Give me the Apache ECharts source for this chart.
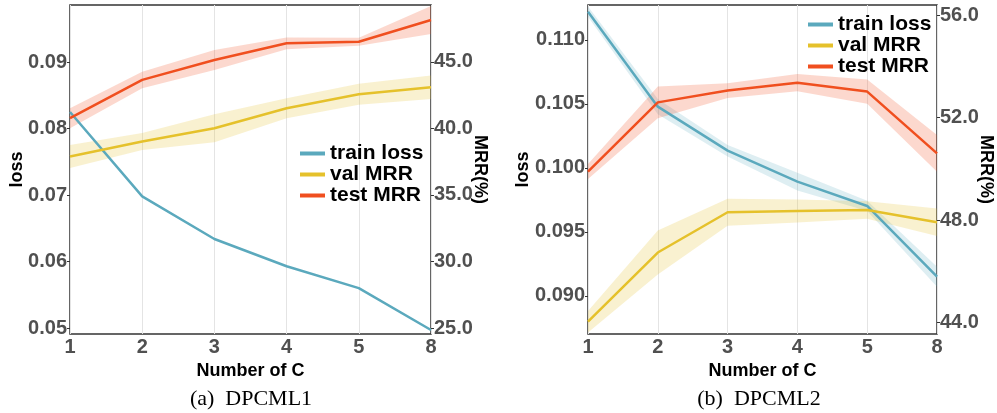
<!DOCTYPE html>
<html>
<head>
<meta charset="utf-8">
<script src="https://cdn.jsdelivr.net/npm/echarts@6/dist/echarts.min.js"></script>
<style>
html,body{margin:0;padding:0;background:#fff;}
#chart{width:997px;height:413px;}
</style>
</head>
<body>
<div id="chart"></div>
<script>
// ---- data ----
var categories = ['1', '2', '3', '4', '5', '8'];

// (a) DPCML1
var trainLoss1 = [0.0825, 0.0698, 0.0634, 0.0593, 0.0560, 0.0497];
var valMRR1    = [37.89, 39.02, 40.02, 41.52, 42.57, 43.10];
var valErr1    = [0.86, 0.64, 1.05, 0.75, 0.79, 0.88];
var testMRR1   = [40.77, 43.65, 45.15, 46.40, 46.52, 48.15];
var testErr1   = [0.75, 0.62, 0.75, 0.44, 0.30, 1.05];

// (b) DPCML2
var trainLoss2 = [0.11221, 0.10479, 0.10135, 0.09893, 0.09703, 0.09151];
var trainErr2  = [0.0004, 0.0006, 0.00045, 0.0007, 0.0004, 0.00078];
var valMRR2    = [44.04, 46.74, 48.31, 48.36, 48.40, 47.92];
var valErr2    = [0.42, 0.86, 0.53, 0.45, 0.34, 0.54];
var testMRR2   = [49.90, 52.60, 53.06, 53.37, 53.02, 50.61];
var testErr2   = [0.29, 0.62, 0.29, 0.34, 0.47, 0.72];

// tick labels
var lossTicks1 = [0.05, 0.06, 0.07, 0.08, 0.09];
var mrrTicks1  = [25, 30, 35, 40, 45];
var lossTicks2 = [0.090, 0.095, 0.100, 0.105, 0.110];
var mrrTicks2  = [44, 48, 52, 56];

var seriesNames = ['train loss', 'val MRR', 'test MRR'];
var captions = ['(a)  DPCML1', '(b)  DPCML2'];
var xName = 'Number of C';

// ---- styles ----
var TEAL = '#5ba9bd', YEL = '#e5c12b', RED = '#f04f1f';
var TEAL_B = 'rgba(91,169,189,0.2)', YEL_B = 'rgba(229,193,43,0.22)', RED_B = 'rgba(240,79,31,0.22)';
var FONT = 'Liberation Sans';
var tickLabel = {fontFamily: FONT, fontWeight: 'bold', fontSize: 20, color: '#505050'};
var nameStyle = {fontFamily: FONT, fontWeight: 'bold', fontSize: 18, color: '#000'};

function lower(v, e) { return v.map(function (x, i) { return x - e[i]; }); }
function width(e) { return e.map(function (x) { return 2 * x; }); }

function band(name, xi, yi, vals, errs, color) {
  return [
    {name: name + ' lo', type: 'line', xAxisIndex: xi, yAxisIndex: yi, stack: name,
     data: lower(vals, errs), symbol: 'none', silent: true,
     lineStyle: {opacity: 0}, z: 1},
    {name: name + ' hi', type: 'line', xAxisIndex: xi, yAxisIndex: yi, stack: name,
     data: width(errs), symbol: 'none', silent: true,
     lineStyle: {opacity: 0}, areaStyle: {color: color, opacity: 1}, z: 1}
  ];
}
function line(name, xi, yi, vals, color) {
  return {name: name, type: 'line', xAxisIndex: xi, yAxisIndex: yi, data: vals,
          symbol: 'none', color: color, itemStyle: {color: color},
          lineStyle: {color: color, width: 2.5}, z: 3};
}
function xAxis(gi) {
  return {type: 'category', gridIndex: gi, data: categories, boundaryGap: false,
          axisLine: {show: false}, axisTick: {show: false},
          axisLabel: Object.assign({margin: 3}, tickLabel),
          splitLine: {show: true, lineStyle: {color: '#e4e4e4', width: 1}},
          name: xName, nameLocation: 'middle', nameGap: 17, nameTextStyle: nameStyle};
}
function yAxis(gi, pos, min, max, ticks, dec, name, gap) {
  return {type: 'value', gridIndex: gi, position: pos, min: min, max: max,
          axisLine: {show: false},
          axisTick: {show: true, customValues: ticks, length: 3, lineStyle: {color: '#333', width: 1}},
          axisLabel: Object.assign({margin: 3, customValues: ticks,
                     formatter: function (v) { return Number(v).toFixed(dec); }}, tickLabel),
          splitLine: {show: false},
          name: name, nameLocation: 'middle', nameRotate: pos === 'left' ? 90 : -90,
          nameMoveOverlap: false,
          nameGap: gap, nameTextStyle: nameStyle};
}

var series = []
  .concat(band('val1', 0, 1, valMRR1, valErr1, YEL_B))
  .concat(band('test1', 0, 1, testMRR1, testErr1, RED_B))
  .concat([line(seriesNames[0], 0, 0, trainLoss1, TEAL),
           line(seriesNames[1], 0, 1, valMRR1, YEL),
           line(seriesNames[2], 0, 1, testMRR1, RED)])
  .concat(band('train2', 1, 2, trainLoss2, trainErr2, TEAL_B))
  .concat(band('val2', 1, 3, valMRR2, valErr2, YEL_B))
  .concat(band('test2', 1, 3, testMRR2, testErr2, RED_B))
  .concat([line(seriesNames[0], 1, 2, trainLoss2, TEAL),
           line(seriesNames[1], 1, 3, valMRR2, YEL),
           line(seriesNames[2], 1, 3, testMRR2, RED)]);

var legendBase = {orient: 'vertical', data: seriesNames, icon: 'rect', itemWidth: 25, itemHeight: 4,
                  itemGap: 0, selectedMode: false,
                  textStyle: {fontFamily: FONT, fontWeight: 'bold', fontSize: 21, color: '#000',
                              lineHeight: 19, padding: [0, 0, 0, 0]}, padding: 0};

var option = {
  animation: false,
  backgroundColor: '#fff',
  title: [
    {text: captions[0], left: 246, top: 383, textAlign: 'center',
     textStyle: {fontFamily: 'Liberation Serif', fontWeight: 'normal', fontSize: 22, color: '#000'}},
    {text: captions[1], left: 754, top: 383, textAlign: 'center',
     textStyle: {fontFamily: 'Liberation Serif', fontWeight: 'normal', fontSize: 22, color: '#000'}}
  ],
  legend: [
    Object.assign({left: 300, top: 143}, legendBase),
    Object.assign({left: 808, top: 14}, legendBase)
  ],
  grid: [
    {left: 70, top: 5, width: 361, height: 329, show: true, borderColor: '#333', borderWidth: 1.5, backgroundColor: 'transparent'},
    {left: 588, top: 5, width: 349, height: 329, show: true, borderColor: '#333', borderWidth: 1.5, backgroundColor: 'transparent'}
  ],
  xAxis: [xAxis(0), xAxis(1)],
  yAxis: [
    yAxis(0, 'left', 0.0491, 0.0986, lossTicks1, 2, 'loss', 44),
    yAxis(0, 'right', 24.55, 49.28, mrrTicks1, 1, 'MRR(%)', 40),
    yAxis(1, 'left', 0.08703, 0.11273, lossTicks2, 3, 'loss', 56),
    yAxis(1, 'right', 43.56, 56.4, mrrTicks2, 1, 'MRR(%)', 40)
  ],
  series: series
};

var chart = echarts.init(document.getElementById('chart'), null, {renderer: 'canvas'});
chart.setOption(option);
</script>
</body>
</html>
